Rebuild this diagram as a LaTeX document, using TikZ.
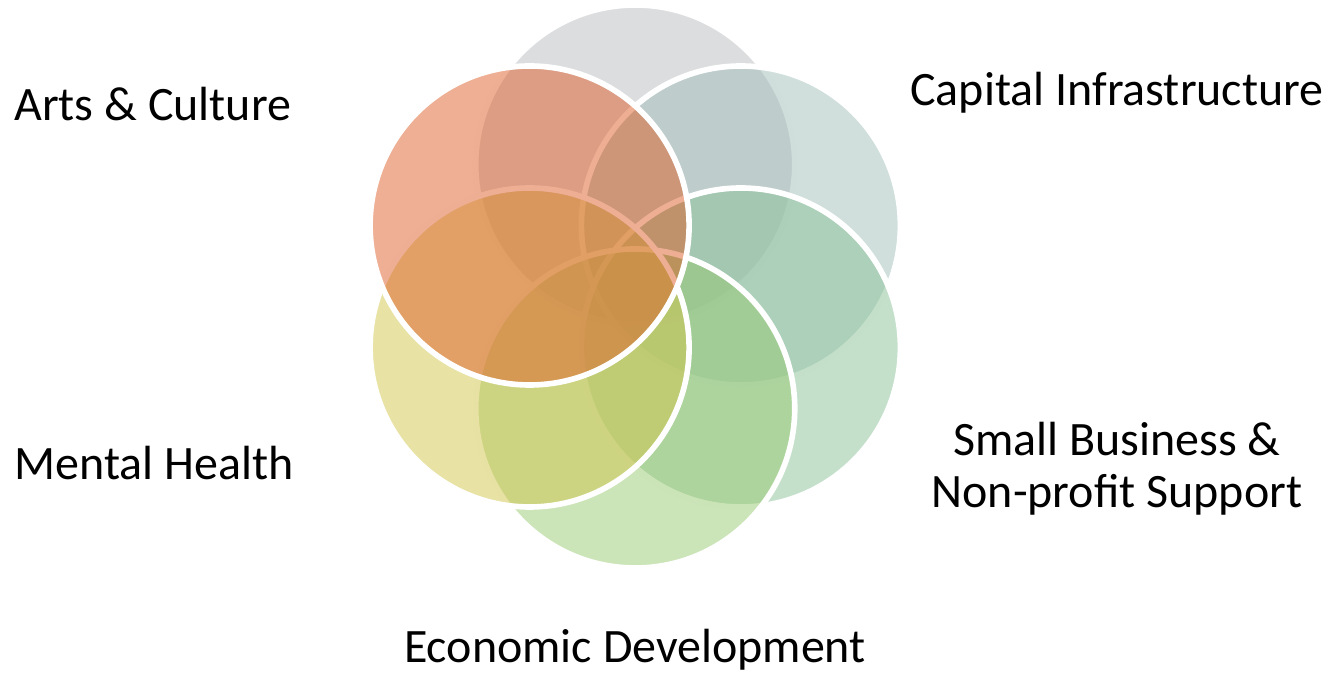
\documentclass[tikz,border=0pt]{standalone}
\usepackage{fontspec}
\setmainfont{Carlito}
\usepackage{tikz}
\usetikzlibrary{positioning}

\definecolor{petalgray}{RGB}{185,187,191}
\definecolor{petalteal}{RGB}{161,191,185}
\definecolor{petalmint}{RGB}{137,193,151}
\definecolor{petalgreen}{RGB}{151,201,113}
\definecolor{petalyellow}{RGB}{209,197,75}
\definecolor{petalorange}{RGB}{221,95,41}

\begin{document}
\begin{tikzpicture}[
  petal/.style={draw=white,line width=3.2pt,fill opacity=0.5},
  label/.style={font=\fontsize{27.3pt}{29.8pt}\selectfont,inner sep=0pt}]
\useasboundingbox (0,0) rectangle (26.6,13.52);
% Petals, back to front
\draw[petal,fill=petalgray] (12.705,10.23) circle (3.19);
\draw[petal,fill=petalteal] (14.818,9.01) circle (3.19);
\draw[petal,fill=petalmint] (14.818,6.57) circle (3.19);
\draw[petal,fill=petalgreen] (12.705,5.35) circle (3.19);
\draw[petal,fill=petalyellow] (10.592,6.57) circle (3.19);
\draw[petal,fill=petalorange] (10.592,9.01) circle (3.19);
% Labels
\node[label,anchor=base west] (arts) at (0.28,11.10) {Arts \& Culture};
\node[label,anchor=base west] (capital) at (18.20,11.40) {Capital Infrastructure};
\node[label,anchor=base west] (mental) at (0.28,3.92) {Mental Health};
\node[label,anchor=base,align=center] (business) at (22.34,3.36) {Small Business \&\\Non-profit Support};
\node[label,anchor=base] (economic) at (12.70,0.27) {Economic Development};
\end{tikzpicture}
\end{document}
